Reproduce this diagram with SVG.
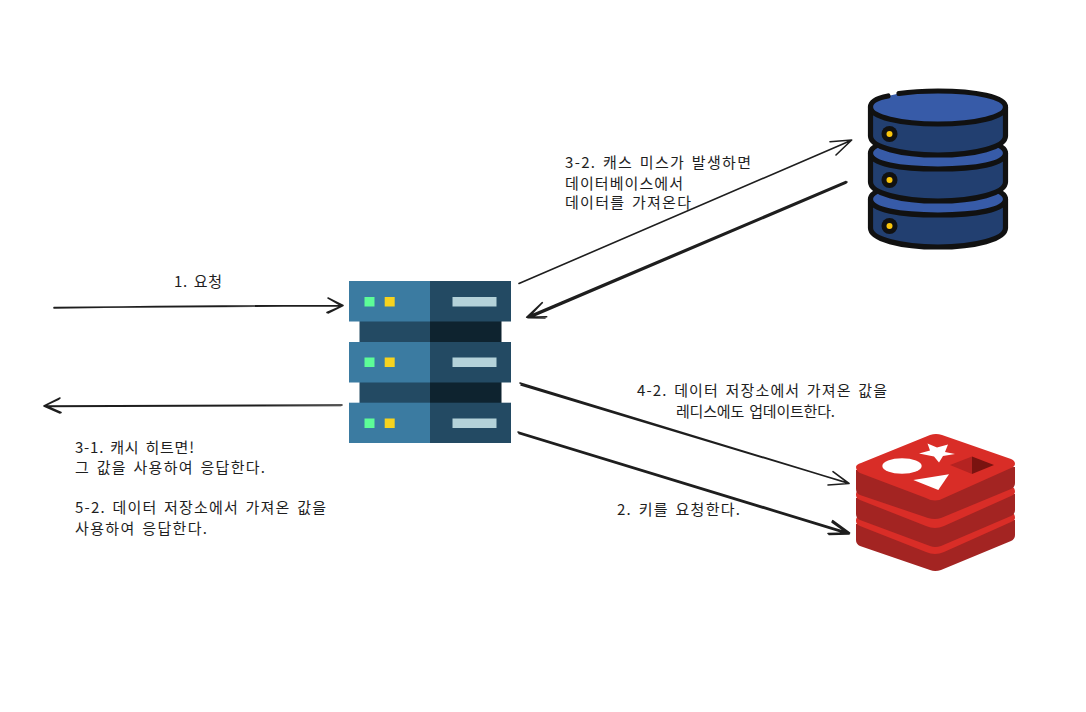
<svg xmlns="http://www.w3.org/2000/svg" width="1086" height="712" viewBox="0 0 1086 712">
<style>
.t{font-family:"Noto Sans CJK KR","Noto Sans",sans-serif;font-size:15px;fill:#1e1e1e;word-spacing:2px}
.c{fill:none;stroke:#1e1e1e;stroke-width:1.6;stroke-linecap:round;stroke-linejoin:round}
</style>
<rect width="1086" height="712" fill="#fff"/>
<g id="connectors">
<path class="c" d="M54 307.500Q200 306 342 305.500M54 308Q200 305 341 306M328 298L343 305.500L328 313M329 298.500L342 306L327 312.500"/>
<path class="c" d="M342 405Q200 405.500 45 406M341 405.500Q200 406 46 406.500M60 398L44 406L60 413M59 399L45 405.500L61 412.500"/>
<path class="c" d="M519 283.500L851 140.500M830 141.700L851.700 140L836 155"/>
<path class="c" d="M847 182L528 317M846 183L529 318M846 181.500L528 316.500M542.300 302.700L526.700 317.300L546.700 316.700M541 304L528 317.800L545 318"/>
<path class="c" d="M520 383L849 483.500M521 385L848 483M833 471.700L849 483.500L828 485"/>
<path class="c" d="M518 432L849 533M519 433.500L848 534M832.700 520.700L849.500 533L828 533.500M832 522L849 534L829 534.500"/>
</g>
<g id="server">
<rect x="359.500" y="321" width="70.500" height="82" fill="#234a63"/>
<rect x="430" y="321" width="71.500" height="82" fill="#0e232f"/>
<g id="server-unit-1"><rect x="349" y="281" width="81" height="40.500" fill="#3b7ba1"/><rect x="430" y="281" width="81" height="40.500" fill="#234a63"/><rect x="364.500" y="297" width="10" height="9.500" fill="#5dfd98"/><rect x="384.700" y="297" width="10" height="9.500" fill="#f6d31f"/><rect x="452.500" y="297" width="44" height="9.500" fill="#b4d2d9"/></g>
<g id="server-unit-2"><rect x="349" y="342" width="81" height="40.500" fill="#3b7ba1"/><rect x="430" y="342" width="81" height="40.500" fill="#234a63"/><rect x="364.500" y="357.500" width="10" height="9.500" fill="#5dfd98"/><rect x="384.700" y="357.500" width="10" height="9.500" fill="#f6d31f"/><rect x="452.500" y="357.500" width="44" height="9.500" fill="#b4d2d9"/></g>
<g id="server-unit-3"><rect x="349" y="402.700" width="81" height="40.300" fill="#3b7ba1"/><rect x="430" y="402.700" width="81" height="40.300" fill="#234a63"/><rect x="364.500" y="418.500" width="10" height="9.500" fill="#5dfd98"/><rect x="384.700" y="418.500" width="10" height="9.500" fill="#f6d31f"/><rect x="452.500" y="418.500" width="44" height="9.500" fill="#b4d2d9"/></g>
</g>
<g id="database" stroke="#111" stroke-width="5.200" stroke-linejoin="round" stroke-linecap="round">
<path d="M870.500 199V228C870.500 239 900 247 938 247S1005.500 239 1005.500 228V199Z" fill="#223f70"/>
<path d="M870.500 199C870.500 188 900 184 938 184S1005.500 188 1005.500 199C1005.500 210 976 215 938 215S870.500 210 870.500 199Z" fill="#375ba8"/>
<path d="M870.500 153V182C870.500 193 900 201 938 201S1005.500 193 1005.500 182V153Z" fill="#223f70"/>
<path d="M870.500 153C870.500 142 900 138 938 138S1005.500 142 1005.500 153C1005.500 164 976 169 938 169S870.500 164 870.500 153Z" fill="#375ba8"/>
<path d="M870.500 107V136C870.500 147 900 155 938 155S1005.500 147 1005.500 136V107Z" fill="#223f70"/>
<path d="M888 96C877 98 870.500 102 870.500 107C870.500 117 900 124 938 124S1005.500 117 1005.500 107C1005.500 97 976 91 938 91C926 91 909 92 899 93.500" fill="#375ba8"/>
<g stroke="none"><circle cx="889.500" cy="134" r="8" fill="#111"/><circle cx="889.500" cy="180" r="8" fill="#111"/><circle cx="889.500" cy="226" r="8" fill="#111"/><circle cx="889.500" cy="134" r="3" fill="#fbc60c"/><circle cx="889.500" cy="180" r="3" fill="#fbc60c"/><circle cx="889.500" cy="226" r="3" fill="#fbc60c"/></g>
</g>
<g id="redis">
<path d="M856 524V540Q856 544 860 546L930 570Q935 572 941 570L1011 541Q1015 539 1015 535V520Z" fill="#a32422"/>
<path d="M856 521C856 517 858 516 861 515L930 488Q936 486 942 488L1011 512C1014 513 1015 515 1015 518C1015 520 1013 521 1011 522L944 552Q935 556 926 552L860 526C858 525 856 524 856 521Z" fill="#d92d27"/>
<path d="M856 498V514Q856 518 860 520L930 546Q935 548 941 546L1011 516Q1015 514 1015 510V494Z" fill="#a32422"/>
<path d="M856 495C856 491 858 490 861 489L930 462Q936 460 942 462L1011 486C1014 487 1015 489 1015 492C1015 494 1013 495 1011 496L944 526Q935 530 926 526L860 500C858 499 856 498 856 495Z" fill="#d92d27"/>
<path d="M856 470V489Q856 493 860 495L928 518Q935 520 941 518L1011 489Q1015 487 1015 483V467Z" fill="#a32422"/>
<path d="M856 467C856 465 858 464 861 463L930 435Q936 433 942 435L1011 459C1014 460 1015 462 1015 464C1015 466 1013 467 1011 468L944 498Q935 503 926 498L860 473C858 472 856 470 856 467Z" fill="#d92d27"/>
<ellipse cx="902" cy="466" rx="19.700" ry="7.700" fill="#fff"/>
<path d="M927.500 443.500L937 447.500L948 444.500L945 452L955 454L943 456L939 462.500L934 456.500L919 453.500L930 450.500Z" fill="#fff"/>
<path d="M913.300 480L949 474.300L938.300 490Z" fill="#fff"/>
<path d="M950 465L972 456.500L972 474Z" fill="#b42321"/>
<path d="M972 456.500L994 465L972 474Z" fill="#7a1310"/>
</g>
<g id="labels">
<text class="t" x="174" y="287" textLength="48">1. 요청</text>
<text class="t" x="565" y="168" textLength="186">3-2. 캐스 미스가 발생하면</text>
<text class="t" x="565" y="189" textLength="118">데이터베이스에서</text>
<text class="t" x="565" y="208" textLength="126">데이터를 가져온다</text>
<text class="t" x="637" y="396" textLength="250">4-2. 데이터 저장소에서 가져온 값을</text>
<text class="t" x="676" y="417" textLength="159">레디스에도 업데이트한다.</text>
<text class="t" x="617" y="515" textLength="123">2. 키를 요청한다.</text>
<text class="t" x="75" y="453" textLength="119">3-1. 캐시 히트면!</text>
<text class="t" x="75" y="473" textLength="190">그 값을 사용하여 응답한다.</text>
<text class="t" x="75" y="513" textLength="251">5-2. 데이터 저장소에서 가져온 값을</text>
<text class="t" x="75" y="534" textLength="132">사용하여 응답한다.</text>
</g>
</svg>
